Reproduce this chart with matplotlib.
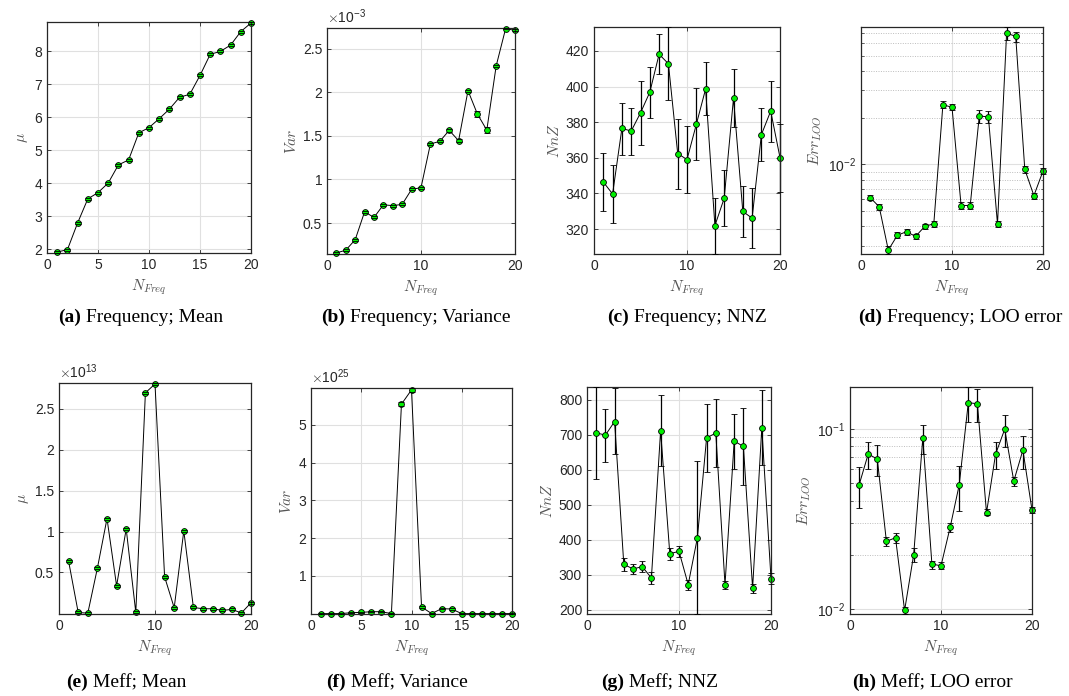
import matplotlib
matplotlib.use('Agg')
import matplotlib.pyplot as plt
import numpy as np
from matplotlib.ticker import FuncFormatter, LogLocator, NullFormatter

plt.rcParams['font.family'] = ['Liberation Sans', 'DejaVu Sans']
plt.rcParams['mathtext.fontset'] = 'cm'

x = np.arange(1, 21)

# (a) Frequency; Mean
mean_freq = [1.91, 1.98, 2.79, 3.52, 3.71, 4.00, 4.55, 4.70, 5.52, 5.68,
             5.95, 6.24, 6.60, 6.69, 7.26, 7.90, 7.99, 8.18, 8.59, 8.85]
mean_freq_err = [0.03, 0.03, 0.03, 0.03, 0.03, 0.03, 0.03, 0.03, 0.03, 0.03,
                 0.03, 0.03, 0.03, 0.03, 0.03, 0.03, 0.03, 0.03, 0.03, 0.03]

# (b) Frequency; Variance  (x 1e-3)
var_freq = [0.158, 0.19, 0.31, 0.63, 0.565, 0.71, 0.70, 0.715, 0.887, 0.906,
            1.407, 1.437, 1.563, 1.445, 2.018, 1.75, 1.566, 2.303, 2.728, 2.709]
var_freq_err = [0.012, 0.012, 0.012, 0.012, 0.012, 0.012, 0.012, 0.012, 0.012, 0.012,
                0.012, 0.012, 0.015, 0.015, 0.012, 0.03, 0.03, 0.012, 0.008, 0.012]

# (c) Frequency; NNZ
nnz_freq = [346.4, 339.7, 376.5, 375.0, 385.2, 396.8, 418.1, 412.8, 362.4, 359.0,
            378.7, 398.6, 321.9, 337.3, 393.4, 329.9, 326.1, 373.0, 386.2, 360.1]
nnz_freq_lo = [329.9, 323.2, 361.8, 361.8, 367.4, 382.1, 407.0, 392.3, 342.7, 340.1,
               358.5, 383.9, 306.0, 321.9, 377.4, 315.4, 309.2, 358.3, 369.1, 341.0]
nnz_freq_hi = [362.9, 355.9, 390.8, 388.0, 403.3, 411.1, 429.3, 433.4, 381.7, 378.0,
               399.0, 413.5, 337.5, 353.1, 409.6, 344.3, 343.2, 387.7, 403.3, 379.1]

# (d) Frequency; LOO error  (x 1e-3)
loo_freq = [6.13, 5.35, 2.82, 3.51, 3.70, 3.45, 4.00, 4.16, 24.2, 23.3,
            5.45, 5.45, 20.5, 20.2, 4.14, 69.6, 66.6, 9.29, 6.31, 9.07]
loo_freq_lo = [5.87, 5.13, 2.66, 3.36, 3.54, 3.30, 3.83, 3.98, 23.1, 22.3,
               5.20, 5.20, 18.6, 18.5, 3.96, 63.5, 61.2, 8.86, 6.03, 8.68]
loo_freq_hi = [6.40, 5.58, 2.98, 3.66, 3.86, 3.60, 4.17, 4.34, 25.4, 24.4,
               5.70, 5.70, 22.3, 22.0, 4.33, 76.4, 71.3, 9.73, 6.60, 9.50]

# (e) Meff; Mean  (x 1e13)
mean_meff = [0.638, 0.012, 0.003, 0.553, 1.159, 0.337, 1.033, 0.012, 2.695, 2.803,
             0.447, 0.069, 1.008, 0.073, 0.057, 0.057, 0.037, 0.049, 0.006, 0.130]
mean_meff_err = [0.012, 0.012, 0.010, 0.012, 0.012, 0.012, 0.012, 0.012, 0.012, 0.012,
                 0.012, 0.012, 0.012, 0.012, 0.012, 0.012, 0.012, 0.012, 0.012, 0.012]

# (f) Meff; Variance  (x 1e25)
var_meff = [0.002, 0.002, 0.003, 0.027, 0.035, 0.053, 0.053, 0.002, 5.549, 5.927,
            0.177, 0.004, 0.133, 0.124, 0.002, 0.002, 0.002, 0.002, 0.002, 0.003]
var_meff_err = [0.01, 0.01, 0.01, 0.01, 0.01, 0.01, 0.01, 0.01, 0.05, 0.05,
                0.02, 0.01, 0.02, 0.02, 0.01, 0.01, 0.01, 0.01, 0.01, 0.01]

# (g) Meff; NNZ
nnz_meff = [705.2, 698.6, 737.4, 329.9, 316.6, 323.2, 291.0, 710.9, 360.2, 366.8,
            272.0, 405.7, 691.0, 704.3, 272.0, 681.5, 666.4, 261.6, 719.4, 289.1]
nnz_meff_lo = [574.4, 621.8, 644.5, 310.0, 303.3, 308.0, 274.9, 609.5, 343.1, 350.7,
               257.8, 188.0, 593.4, 607.6, 260.7, 602.8, 556.4, 248.3, 612.3, 273.0]
nnz_meff_hi = [836.0, 774.4, 832.2, 348.8, 330.8, 340.3, 309.0, 812.3, 375.4, 382.0,
               284.4, 623.7, 788.6, 801.0, 283.4, 759.2, 776.3, 274.9, 826.5, 304.3]

# (h) Meff; LOO error
loo_meff = [0.0489, 0.0726, 0.0681, 0.0238, 0.0249, 0.00984, 0.0201, 0.0891, 0.0178, 0.0174,
            0.0284, 0.0489, 0.140, 0.138, 0.0343, 0.0726, 0.0996, 0.0514, 0.0764, 0.0355]
loo_meff_lo = [0.0362, 0.0602, 0.0548, 0.0224, 0.0234, 0.0094, 0.0182, 0.0723, 0.0167, 0.0166,
               0.0269, 0.0352, 0.109, 0.109, 0.0331, 0.0602, 0.0798, 0.0482, 0.0602, 0.0341]
loo_meff_hi = [0.0615, 0.0843, 0.0815, 0.0251, 0.0264, 0.01026, 0.0218, 0.1057, 0.0186, 0.0182,
               0.0301, 0.0625, 0.171, 0.166, 0.0358, 0.0847, 0.120, 0.0543, 0.0918, 0.0369]

captions = [('a', 'Frequency; Mean'), ('b', 'Frequency; Variance'),
            ('c', 'Frequency; NNZ'), ('d', 'Frequency; LOO error'),
            ('e', 'Meff; Mean'), ('f', 'Meff; Variance'),
            ('g', 'Meff; NNZ'), ('h', 'Meff; LOO error')]

W, H = 1069, 696
fig = plt.figure(figsize=(W / 100, H / 100), dpi=100)

# axes boxes in pixels: left, top, right, bottom
boxes = [(47, 22, 251, 253), (327, 28, 515, 254), (594, 27, 780, 254), (861, 27, 1043, 254),
         (59, 383, 251, 614), (311, 388, 512, 614), (587, 387, 771, 614), (850, 387, 1032, 614)]
axes = []
for l, t, r, b in boxes:
    axes.append(fig.add_axes([l / W, (H - b) / H, (r - l) / W, (b - t) / H]))

GREEN = '#00f000'
DARK = '#262626'


def draw(ax, y, lo, hi):
    y = np.asarray(y); lo = np.asarray(lo); hi = np.asarray(hi)
    eb = ax.errorbar(x, y, yerr=[y - lo, hi - y], fmt='-o', color='k', lw=0.7,
                     elinewidth=0.9, capsize=2.4, capthick=0.9, ms=4.2,
                     mfc=GREEN, mec='k', mew=0.6, clip_on=False)
    for c in eb[1]:
        c.set_zorder(3)
    ax.set_ylim(lo.min(), hi.max())


def style(ax, xticks, ylabel):
    ax.set_xlim(0, 20)
    ax.set_xticks(xticks)
    ax.tick_params(which='both', direction='in', top=True, right=True,
                   colors=DARK, labelsize=10)
    ax.tick_params(which='major', length=3, width=0.6)
    ax.tick_params(which='minor', length=1.8, width=0.5)
    ax.grid(True, which='major', color='#e0e0e0', lw=0.8)
    ax.set_axisbelow(True)
    for s in ax.spines.values():
        s.set_color(DARK)
        s.set_linewidth(0.9)
    ax.set_xlabel(r'$N_{Freq}$', fontsize=11, color='#555555', labelpad=4)
    ax.set_ylabel(ylabel, fontsize=11, color='#555555', labelpad=3)


def scaled(ax, exp):
    f = 10.0 ** exp
    ax.yaxis.set_major_formatter(FuncFormatter(lambda v, p: '%g' % round(v / f, 6)))
    ax.text(0, 1.008, r'$\times\mathdefault{10^{%d}}$' % exp, transform=ax.transAxes,
            ha='left', va='bottom', fontsize=10, color=DARK)


def logaxis(ax):
    ax.set_yscale('log')
    ax.yaxis.set_major_locator(LogLocator(base=10))
    ax.yaxis.set_minor_locator(LogLocator(base=10, subs=np.arange(2, 10)))
    ax.yaxis.set_minor_formatter(NullFormatter())
    ax.grid(True, which='minor', axis='y', color='#bdbdbd', lw=0.7, ls=(0, (1, 1.5)))


def sym(y, e, k=1.0):
    y = np.asarray(y) * k
    e = np.asarray(e) * k
    return y, y - e, y + e


# (a)
ax = axes[0]
draw(ax, *sym(mean_freq, mean_freq_err))
ax.set_yticks([2, 3, 4, 5, 6, 7, 8])
style(ax, [0, 5, 10, 15, 20], r'$\mu$')

# (b)
ax = axes[1]
draw(ax, *sym(var_freq, var_freq_err, 1e-3))
ax.set_yticks(np.array([0.5, 1, 1.5, 2, 2.5]) * 1e-3)
scaled(ax, -3)
style(ax, [0, 10, 20], r'$Var$')

# (c)
ax = axes[2]
draw(ax, nnz_freq, nnz_freq_lo, nnz_freq_hi)
ax.set_yticks([320, 340, 360, 380, 400, 420])
style(ax, [0, 10, 20], r'$NnZ$')

# (d)
ax = axes[3]
logaxis(ax)
draw(ax, np.array(loo_freq) * 1e-3, np.array(loo_freq_lo) * 1e-3, np.array(loo_freq_hi) * 1e-3)
style(ax, [0, 10, 20], r'$Err_{LOO}$')

# (e)
ax = axes[4]
draw(ax, *sym(mean_meff, mean_meff_err, 1e13))
ax.set_yticks(np.array([0.5, 1, 1.5, 2, 2.5]) * 1e13)
scaled(ax, 13)
style(ax, [0, 10, 20], r'$\mu$')

# (f)
ax = axes[5]
draw(ax, *sym(var_meff, var_meff_err, 1e25))
ax.set_yticks(np.array([1, 2, 3, 4, 5]) * 1e25)
scaled(ax, 25)
style(ax, [0, 5, 10, 15, 20], r'$Var$')

# (g)
ax = axes[6]
draw(ax, nnz_meff, nnz_meff_lo, nnz_meff_hi)
ax.set_yticks([200, 300, 400, 500, 600, 700, 800])
style(ax, [0, 10, 20], r'$NnZ$')

# (h)
ax = axes[7]
logaxis(ax)
draw(ax, loo_meff, loo_meff_lo, loo_meff_hi)
style(ax, [0, 10, 20], r'$Err_{LOO}$')

# captions under each panel
cap_x = [141, 416, 687, 960, 126, 397, 660, 932]
cap_y = [322, 322, 322, 322, 687, 687, 687, 687]
renderer = fig.canvas.get_renderer()
for (letter, text), cx, cy in zip(captions, cap_x, cap_y):
    t1 = fig.text(0, (H - cy) / H, '(%s)' % letter, fontsize=14, weight='bold',
                  family='Liberation Serif', va='baseline', ha='left')
    t2 = fig.text(0, (H - cy) / H, ' ' + text, fontsize=14,
                  family='Liberation Serif', va='baseline', ha='left')
    w1 = t1.get_window_extent(renderer).width
    w2 = t2.get_window_extent(renderer).width
    left = cx - (w1 + w2) / 2
    t1.set_x(left / W)
    t2.set_x((left + w1) / W)

fig.savefig('out.png', dpi=100)
